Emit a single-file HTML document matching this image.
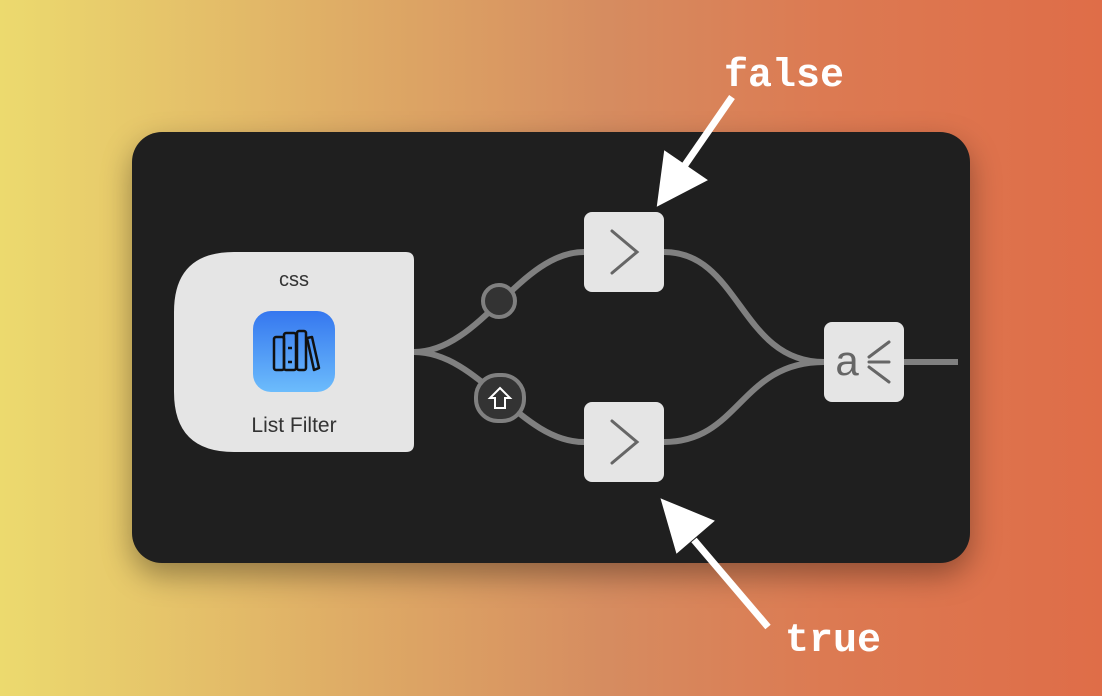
<!DOCTYPE html>
<html><head><style>
body{margin:0;width:1102px;height:696px;overflow:hidden;background:linear-gradient(90deg,#ecda6e 0%,#dfae66 30%,#d68c60 55%,#dc7a52 75%,#df6d48 100%);font-family:"Liberation Sans",sans-serif;}
.panel{position:absolute;left:132px;top:132px;width:838px;height:431px;background:#1f1f1f;border-radius:30px;box-shadow:0 12px 30px rgba(0,0,0,.35);}
</style></head><body>
<div class="panel"></div>
<svg width="1102" height="696" style="position:absolute;left:0;top:0">
<g fill="none" stroke="#808080" stroke-width="6">
<path d="M414 352 C480 352 520 252 584 252"/>
<path d="M414 352 C480 352 520 442 584 442"/>
<path d="M664 252 C740 252 740 362 824 362"/>
<path d="M664 442 C740 442 740 362 824 362"/>
<path d="M904 362 L958 362"/>
</g>
<path d="M234 252 L406 252 Q414 252 414 260 L414 444 Q414 452 406 452 L234 452 Q174 452 174 392 L174 312 Q174 252 234 252Z" fill="#e5e5e5"/>
<text x="294" y="286" font-size="20" text-anchor="middle" fill="#333">css</text>
<text x="294" y="432" font-size="21" text-anchor="middle" fill="#333">List Filter</text>
<defs><linearGradient id="g" x1="0" y1="0" x2="0" y2="1"><stop offset="0" stop-color="#3577ef"/><stop offset="1" stop-color="#6cbcfc"/></linearGradient></defs>
<rect x="253" y="311" width="82" height="81" rx="18" fill="url(#g)"/>
<g fill="none" stroke="#111" stroke-width="2.5" stroke-linejoin="round">
<rect x="274" y="337" width="10" height="33" rx="2"/>
<rect x="284" y="333" width="12" height="37" rx="2"/>
<rect x="297" y="331" width="9" height="39" rx="2"/>
<path d="M307 338 L312 337 L319 368 L314 370Z"/>
<path d="M288 348h4M288 362h4"/>
</g>
<circle cx="499" cy="301" r="16" fill="#333" stroke="#808080" stroke-width="4"/>
<rect x="476" y="375" width="48" height="46" rx="22" fill="#333" stroke="#808080" stroke-width="4"/>
<path d="M500 388 L510 398 L505 398 L505 408 L495 408 L495 398 L490 398Z" fill="none" stroke="#fff" stroke-width="2"/>
<g fill="#e5e5e5"><rect x="584" y="212" width="80" height="80" rx="8"/><rect x="584" y="402" width="80" height="80" rx="8"/><rect x="824" y="322" width="80" height="80" rx="8"/></g>
<g fill="none" stroke="#666" stroke-width="3" stroke-linecap="round">
<path d="M612 231 L637 252 L612 273"/><path d="M612 421 L637 442 L612 463"/>
<path d="M889 342 L869 357 M869 362 L889 362 M869 367 L889 382"/>
</g>
<text x="847" y="375" font-size="42" text-anchor="middle" fill="#666">a</text>
<g stroke="#fff" stroke-width="7" fill="#fff">
<line x1="732" y1="97" x2="685" y2="165"/>
<path d="M658 205 L665 152 L706 180Z" stroke-width="2"/>
<line x1="768" y1="627" x2="694" y2="540"/>
<path d="M662 500 L713 521 L677 552Z" stroke-width="2"/>
</g>
<g font-family="'Liberation Mono',monospace" font-weight="bold" font-size="40" fill="#fff">
<text x="724" y="86">false</text><text x="785" y="651">true</text>
</g>
</svg>
</body></html>
